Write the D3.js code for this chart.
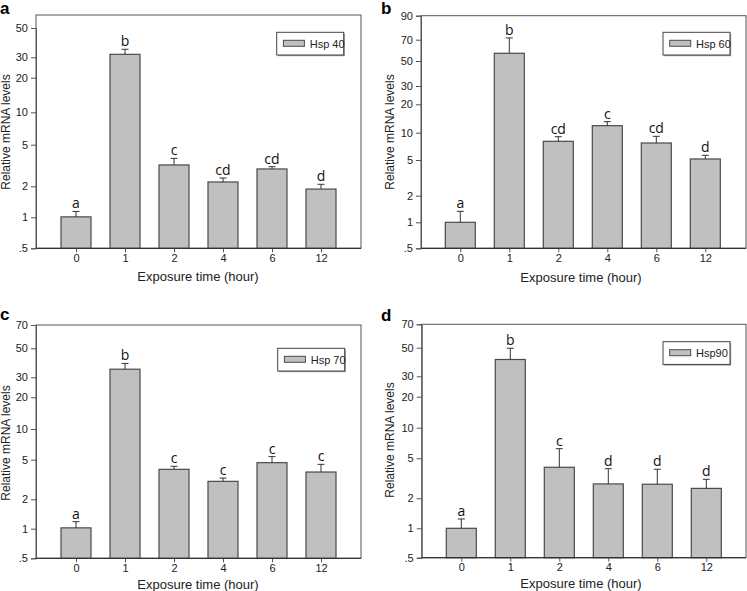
<!DOCTYPE html>
<html><head><meta charset="utf-8">
<script src="https://cdn.jsdelivr.net/npm/d3@7"></script>
<style>
html,body{margin:0;padding:0;background:#fff;}
svg{display:block;font-family:"Liberation Sans",Arial,sans-serif;}
</style></head>
<body><svg id="chart" width="747" height="591"></svg>
<script>
// ---------------- data ----------------
const categories = ["0","1","2","4","6","12"];

const hsp40 = [1.01, 31.6, 3.2, 2.2, 2.93, 1.88];
const hsp40Err = [0.13, 2.9, 0.5, 0.2, 0.15, 0.21];
const hsp40Letters = ["a","b","c","cd","cd","d"];

const hsp60 = [1.0, 56.5, 8.04, 11.87, 7.7, 5.13];
const hsp60Err = [0.33, 14.8, 0.99, 1.23, 1.42, 0.5];
const hsp60Letters = ["a","b","cd","c","cd","d"];

const hsp70 = [1.02, 34.6, 4.0, 3.03, 4.67, 3.76];
const hsp70Err = [0.16, 3.7, 0.29, 0.24, 0.69, 0.73];
const hsp70Letters = ["a","b","c","c","c","c"];

const hsp90 = [1.0, 40.5, 4.07, 2.78, 2.76, 2.51];
const hsp90Err = [0.24, 9.0, 2.15, 1.16, 1.13, 0.58];
const hsp90Letters = ["a","b","c","d","d","d"];

const ticksA = [0.5,1,2,5,10,20,30,50];
const ticksB = [0.5,1,2,5,10,20,30,50,70,90];
const ticksCD = [0.5,1,2,5,10,20,30,50,70];
const tickLabel = v => v === 0.5 ? ".5" : String(v);

const legendNames = ["Hsp 40","Hsp 60","Hsp 70","Hsp90"];
const panelLetters = ["a","b","c","d"];
const xTitle = "Exposure time (hour)";
const yTitle = "Relative mRNA levels";

// ---------------- layout (axis calibration in px from axis bottom) ----------------
const panels = [
  {values:hsp40, err:hsp40Err, letters:hsp40Letters, ticks:ticksA,
   calib:[0,31,62,103.6,136,170.6,191,220.3],
   x0:36, x1:361, y0:15, y1:248.3, xFirst:76, lx:276.7, ly:32.3, tag:[0,14], yt:[6,132], xt:[198,281]},
  {values:hsp60, err:hsp60Err, letters:hsp60Letters, ticks:ticksB,
   calib:[0,26,52.6,88.3,115.6,144,162.3,187.3,208.6,232.6],
   x0:421, x1:746, y0:15.7, y1:248.3, xFirst:460.3, lx:663, ly:32.3, tag:[381,14], yt:[390,132], xt:[581,282]},
  {values:hsp70, err:hsp70Err, letters:hsp70Letters, ticks:ticksCD,
   calib:[0,29.6,59,98.6,129.3,161,181,210,233.3],
   x0:36, x1:361, y0:325, y1:558.3, xFirst:76, lx:277.7, ly:348.3, tag:[0,320], yt:[6,443], xt:[198,589]},
  {values:hsp90, err:hsp90Err, letters:hsp90Letters, ticks:ticksCD,
   calib:[0,29.4,59.4,99.4,130,161,181.4,210,233.4],
   x0:421.7, x1:746, y0:324.3, y1:557.7, xFirst:461.3, lx:663, ly:341.7, tag:[381,321], yt:[390,440], xt:[581,588]}
];

const svg = d3.select("#chart");
const axisCol = "#555";
const barFill = "#c0c0c0";
const barStroke = "#4a4a4a";

panels.forEach((p, i) => {
  const g = svg.append("g");
  const x = d3.scalePoint().domain(categories).range([p.xFirst, p.xFirst + 245]);
  const y = d3.scaleLog().domain(p.ticks).range(p.calib.map(c => p.y1 - c));
  const barW = 30;

  // frame
  g.append("rect").attr("x", p.x0).attr("y", p.y0)
    .attr("width", p.x1 - p.x0).attr("height", p.y1 - p.y0)
    .attr("fill", "none").attr("stroke", axisCol).attr("stroke-width", 1);

  const idx = d3.range(categories.length);
  // bars
  g.selectAll(".bar").data(idx).join("rect")
    .attr("x", d => x(categories[d]) - barW/2)
    .attr("y", d => y(p.values[d]))
    .attr("width", barW)
    .attr("height", d => p.y1 - y(p.values[d]))
    .attr("fill", barFill).attr("stroke", barStroke).attr("stroke-width", 1.2);

  // error bars (upper only)
  g.selectAll(".eb").data(idx).join("path")
    .attr("d", d => {
      const cx = x(categories[d]);
      const yt = y(p.values[d] + p.err[d]), yb = y(p.values[d]);
      return `M${cx},${yb}V${yt}M${cx-3.5},${yt}H${cx+3.5}`;
    })
    .attr("fill", "none").attr("stroke", "#333").attr("stroke-width", 1);

  // significance letters
  g.selectAll(".lt").data(idx).join("text")
    .attr("x", d => x(categories[d]))
    .attr("y", d => y(p.values[d] + p.err[d]) - 3)
    .attr("text-anchor", "middle")
    .attr("font-family", "'Open Sans', sans-serif")
    .attr("font-size", 14)
    .attr("fill", "#111")
    .text(d => p.letters[d]);

  // y axis ticks
  const yAxis = d3.axisLeft(y).tickValues(p.ticks).tickFormat(tickLabel).tickSize(5).tickPadding(3);
  const ya = g.append("g").attr("transform", `translate(${p.x0},0)`).call(yAxis);
  ya.select(".domain").attr("stroke", axisCol);
  ya.selectAll(".tick line").attr("stroke", axisCol);
  ya.selectAll("text").attr("font-size", 11).attr("fill", "#222")
    .attr("font-family", "'Liberation Sans', Arial, sans-serif");

  // x axis ticks
  const xAxis = d3.axisBottom(x).tickSize(4).tickPadding(2);
  const xa = g.append("g").attr("transform", `translate(0,${p.y1})`).call(xAxis);
  xa.select(".domain").remove();
  xa.selectAll(".tick line").attr("stroke", axisCol);
  xa.selectAll("text").attr("font-size", 11).attr("fill", "#222")
    .attr("font-family", "'Liberation Sans', Arial, sans-serif");
  g.append("line").attr("x1", p.x0).attr("x2", p.x1).attr("y1", p.y1).attr("y2", p.y1)
    .attr("stroke", "#333").attr("stroke-width", 1.2);

  // axis titles
  g.append("text").attr("x", p.xt[0]).attr("y", p.xt[1]).attr("text-anchor", "middle")
    .attr("font-size", 13).attr("fill", "#222").text(xTitle);
  g.append("text").attr("transform", `translate(${p.yt[0]},${p.yt[1]}) rotate(-90)`)
    .attr("text-anchor", "middle").attr("dy", "0.35em")
    .attr("font-size", 12).attr("fill", "#222").text(yTitle);

  // panel tag
  g.append("text").attr("x", p.tag[0]).attr("y", p.tag[1])
    .attr("font-size", 17).attr("font-weight", "bold").attr("fill", "#000").text(panelLetters[i]);

  // legend
  const lw = 67, lh = 22.7;
  g.append("rect").attr("x", p.lx + 1.2).attr("y", p.ly + 1.2).attr("width", lw).attr("height", lh)
    .attr("fill", "#999");
  g.append("rect").attr("x", p.lx).attr("y", p.ly).attr("width", lw).attr("height", lh)
    .attr("fill", "#fff").attr("stroke", "#444").attr("stroke-width", 1);
  g.append("rect").attr("x", p.lx + 6.7).attr("y", p.ly + 8).attr("width", 21).attr("height", 6)
    .attr("fill", barFill).attr("stroke", barStroke).attr("stroke-width", 1);
  g.append("text").attr("x", p.lx + 33).attr("y", p.ly + 15.3)
    .attr("font-size", 11).attr("fill", "#222").text(legendNames[i]);
});
</script>
</body></html>
